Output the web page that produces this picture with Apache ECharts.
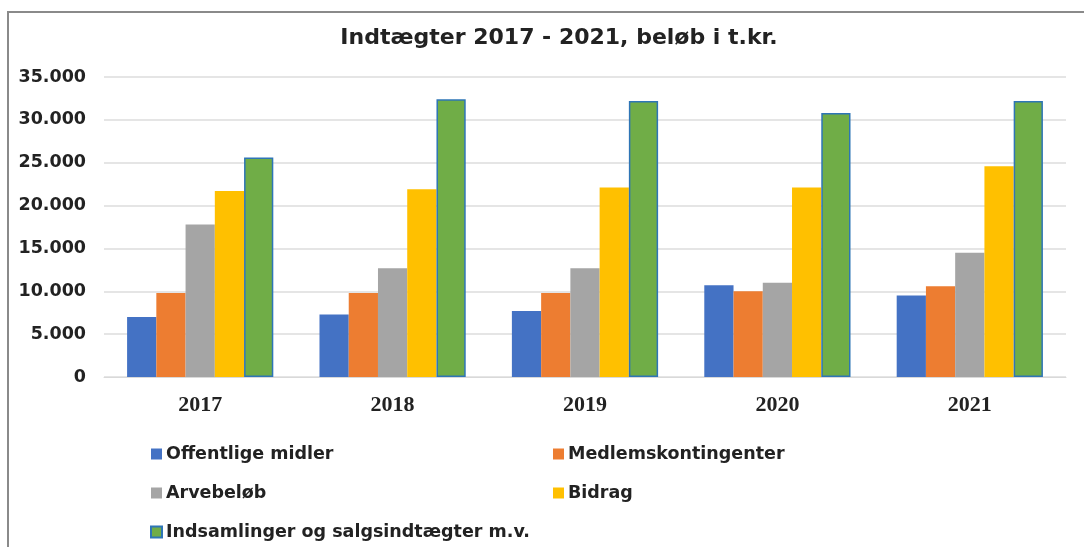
<!DOCTYPE html>
<html>
<head>
<meta charset="utf-8">
<script src="https://cdn.jsdelivr.net/npm/echarts@6/dist/echarts.min.js"></script>
<style>
  html, body { margin: 0; padding: 0; background: #fff; }
  #chart { width: 1084px; height: 547px; }
</style>
</head>
<body>
<div id="chart"></div>
<script>
// data (t.kr.)
const years = ['2017', '2018', '2019', '2020', '2021'];
const offentlige = [7000, 7300, 7700, 10700, 9500];
const medlem = [9800, 9800, 9800, 10000, 10600];
const arv = [17800, 12700, 12700, 11000, 14500];
const bidrag = [21700, 21900, 22100, 22100, 24600];
const indsamlinger = [25600, 32400, 32200, 30800, 32200];

const labelFont = 'DejaVu Sans';
const chart = echarts.init(document.getElementById('chart'));

function bar(name, data, color, extra) {
  return Object.assign({
    name: name,
    type: 'bar',
    data: data,
    barGap: '0%',
    barCategoryGap: '24%',
    itemStyle: { color: color }
  }, extra || {});
}

const legendText = { fontFamily: labelFont, fontWeight: 'bold', fontSize: 17.5, color: '#222', padding: [0, 0, 0, -1] };

chart.setOption({
  animation: false,
  title: {
    text: 'Indtægter 2017 - 2021, beløb i t.kr.',
    left: 554,
    textAlign: 'center',
    top: 22,
    textStyle: { fontFamily: labelFont, fontWeight: 'bold', fontSize: 22, color: '#222' }
  },
  graphic: [{
    type: 'polyline',
    shape: { points: [[8, 547], [8, 12], [1084, 12]] },
    style: { stroke: '#8a8a8a', lineWidth: 2, fill: null }
  }],
  legend: [{
    data: ['Offentlige midler', 'Arvebeløb', 'Indsamlinger og salgsindtægter m.v.'],
    orient: 'vertical',
    left: 145, top: 440,
    itemWidth: 11, itemHeight: 11, itemGap: 21,
    icon: 'rect',
    textStyle: legendText
  }, {
    data: ['Medlemskontingenter', 'Bidrag'],
    orient: 'vertical',
    left: 548, top: 440,
    itemWidth: 11, itemHeight: 11, itemGap: 21,
    icon: 'rect',
    textStyle: legendText
  }],
  grid: { left: 104, right: 18, top: 77, bottom: 170 },
  xAxis: {
    type: 'category',
    data: years,
    axisLine: { lineStyle: { color: '#d9d9d9', width: 1 } },
    axisTick: { show: false },
    axisLabel: { margin: 17, fontFamily: 'Liberation Serif', fontWeight: 'bold', fontSize: 22, color: '#222' }
  },
  yAxis: {
    type: 'value',
    min: 0, max: 35000, interval: 5000,
    axisLine: { show: false },
    axisTick: { show: false },
    splitLine: { lineStyle: { color: '#dcdcdc', width: 1.5 } },
    axisLabel: {
      margin: 18,
      fontFamily: labelFont, fontWeight: 'bold', fontSize: 17.5, color: '#222',
      formatter: v => String(v).replace(/\B(?=(\d{3})+(?!\d))/g, '.')
    }
  },
  series: [
    bar('Offentlige midler', offentlige, '#4472C4'),
    bar('Medlemskontingenter', medlem, '#ED7D31'),
    bar('Arvebeløb', arv, '#A5A5A5'),
    bar('Bidrag', bidrag, '#FFC000'),
    bar('Indsamlinger og salgsindtægter m.v.', indsamlinger, '#70AD47', {
      itemStyle: { color: '#70AD47', borderColor: '#2E75B6', borderWidth: 1.5 }
    })
  ]
});
</script>
</body>
</html>
